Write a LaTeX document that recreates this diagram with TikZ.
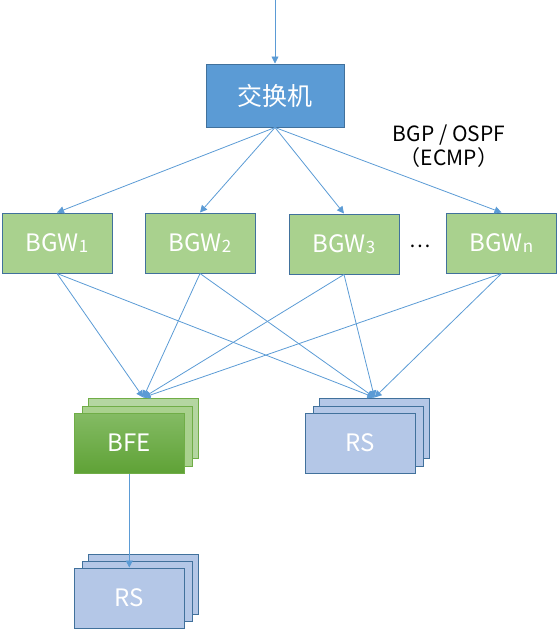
\documentclass[tikz,border=0pt]{standalone}
\usepackage{fontspec}
\setmainfont{Noto Sans CJK SC}
\usetikzlibrary{arrows.meta}
\definecolor{swfill}{HTML}{5B9BD5}
\definecolor{bluebdr}{HTML}{41719C}
\definecolor{bgwfill}{HTML}{A9D18E}
\definecolor{greenbdr}{HTML}{70AD47}
\definecolor{gback}{HTML}{B4D6A1}
\definecolor{gmid}{HTML}{A9D18E}
\definecolor{gtop}{HTML}{84BB64}
\definecolor{gbot}{HTML}{5FA236}
\definecolor{rsfill}{HTML}{B4C7E7}
\definecolor{arr}{HTML}{5B9BD5}
\newcommand\bsub[1]{\raisebox{-1pt}{\fontsize{17}{17}\selectfont #1}}
\tikzset{
  box/.style={draw=bluebdr, line width=1pt, minimum width=110pt, minimum height=60pt,
    inner sep=0pt, text=white, font=\fontsize{24}{24}\selectfont},
  bgw/.style={box, fill=bgwfill},
  rsbox/.style={box, fill=rsfill},
  gstack/.style={box, draw=greenbdr},
  conn/.style={draw=arr, line width=0.8pt, -{Triangle[length=7pt,width=7pt]}}
}
\begin{document}
\begin{tikzpicture}[x=1pt,y=-1pt]
\useasboundingbox (0,0) rectangle (559,632);
% switch
\node[box, fill=swfill, minimum width=138pt, minimum height=63pt, font=\fontsize{25}{25}\selectfont] (sw) at (275,95.5) {交换机};
\coordinate (top) at (275,0);
\draw[conn] (top) -- (sw.north);
% BGWs
\node[bgw] (g1) at (57,243) {BGW\bsub{1}};
\node[bgw] (g2) at (200,243) {BGW\bsub{2}};
\node[bgw] (g3) at (344,244) {BGW\bsub{3}};
\node[bgw] (gn) at (501.5,243) {BGW\bsub{n}};
\node[anchor=base, inner sep=0pt, font=\fontsize{20}{20}\selectfont] (dots) at (420.5,247) {…};
\node[align=center, inner sep=0pt, font=\fontsize{21}{23.5}\selectfont] (lbl) at (449,146) {BGP / OSPF\\（ECMP）};
\foreach \g in {g1,g2,g3,gn} \draw[conn] (sw.south) -- (\g.north);
% BFE stack
\node[gstack, fill=gback] (bfeB) at (143.3,428) {};
\node[gstack, fill=gmid] (bfeM) at (137.3,436) {};
\node[gstack, top color=gtop, bottom color=gbot, draw=greenbdr] (bfe) at (129.3,443) {BFE};
% RS right stack
\node[rsbox] (rsaB) at (374.5,428) {};
\node[rsbox] (rsaM) at (368.5,436) {};
\node[rsbox] (rsa) at (360.5,443) {RS};
% RS bottom stack
\node[rsbox] (rsbB) at (143.3,584) {};
\node[rsbox] (rsbM) at (137.3,591) {};
\node[rsbox] (rsb) at (129.3,598) {RS};
% mesh
\foreach \g in {g1,g2,g3,gn} {
  \draw[conn] (\g.south) -- (bfeB.north);
  \draw[conn] (\g.south) -- (rsaB.north);
}
\draw[conn] (bfe.south) -- (rsb.north);
\end{tikzpicture}
\end{document}
